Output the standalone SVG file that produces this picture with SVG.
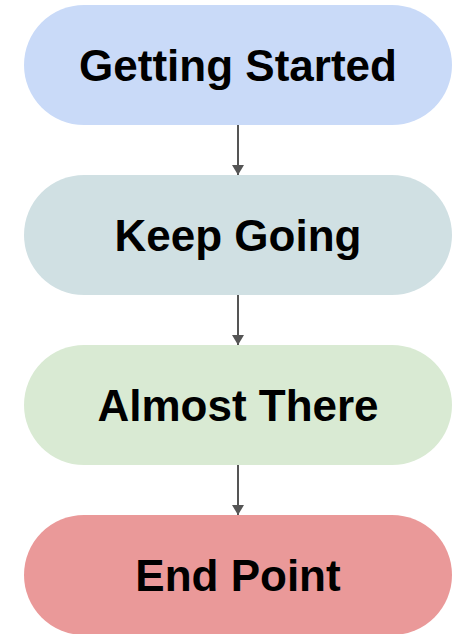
<svg xmlns="http://www.w3.org/2000/svg" width="454" height="634" viewBox="0 0 454 634">
<style>
.lbl{font-family:"Liberation Sans",Arial,sans-serif;font-weight:bold;font-size:44px;fill:#000;text-anchor:middle}
.edge{stroke:#555;stroke-width:2;fill:none}
</style>
<defs>
<marker id="ah" viewBox="0 0 10 12" refX="10" refY="6" markerWidth="10" markerHeight="12" markerUnits="userSpaceOnUse" orient="auto">
<path d="M0,0 L10,6 L0,12 z" fill="#555"/>
</marker>
</defs>
<rect width="454" height="634" fill="#fff"/>
<g id="edges">
<line class="edge" x1="238" y1="125" x2="238" y2="175" marker-end="url(#ah)"/>
<line class="edge" x1="238" y1="295" x2="238" y2="345" marker-end="url(#ah)"/>
<line class="edge" x1="238" y1="465" x2="238" y2="515" marker-end="url(#ah)"/>
</g>
<g id="n1"><rect x="24" y="5" width="428" height="120" rx="60" fill="#c9daf8"/><text class="lbl" x="238" y="81">Getting Started</text></g>
<g id="n2"><rect x="24" y="175" width="428" height="120" rx="60" fill="#d0e0e3"/><text class="lbl" x="238" y="251">Keep Going</text></g>
<g id="n3"><rect x="24" y="345" width="428" height="120" rx="60" fill="#d9ead3"/><text class="lbl" x="238" y="421">Almost There</text></g>
<g id="n4"><rect x="24" y="515" width="428" height="120" rx="60" fill="#ea9999"/><text class="lbl" x="238" y="591">End Point</text></g>
</svg>
